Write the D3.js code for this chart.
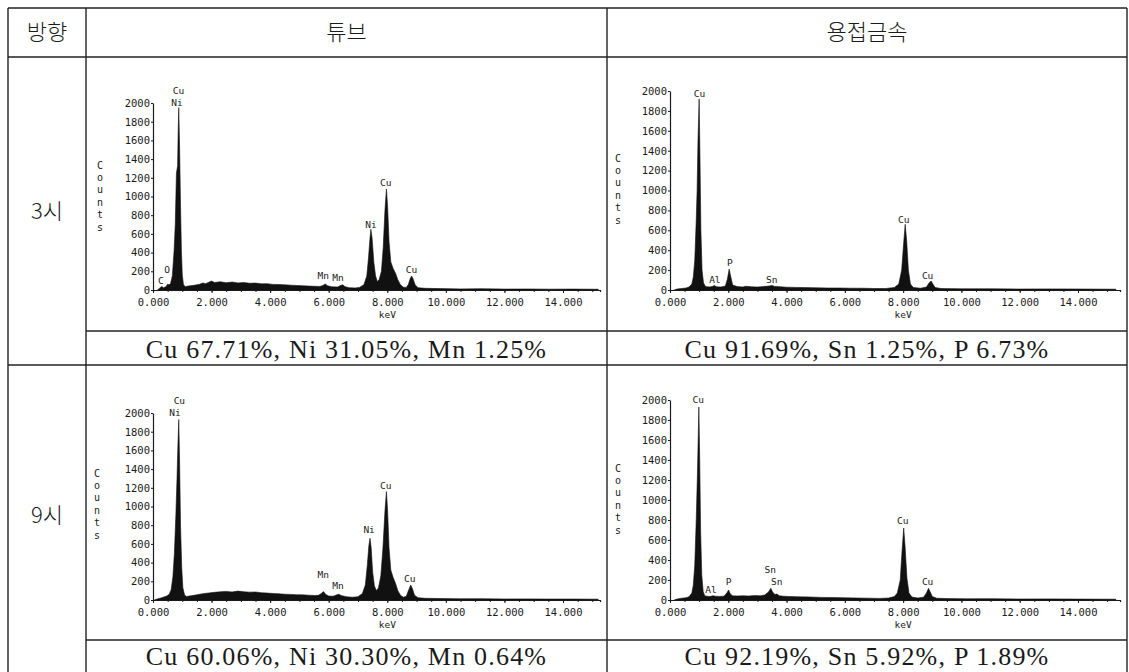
<!DOCTYPE html>
<html>
<head>
<meta charset="utf-8">
<script src="https://cdn.jsdelivr.net/npm/d3@7/dist/d3.min.js"></script>
<style>
body { margin: 0; background: #fff; }
svg { display: block; }
</style>
</head>
<body>
<div id="table"></div>
<script>
//table texts
var columns = ["방향", "튜브", "용접금속"];
var directions = ["3시", "9시"];
var compositions = [
    ["Cu 67.71%, Ni 31.05%, Mn 1.25%", "Cu 91.69%, Sn 1.25%, P 6.73%"],
    ["Cu 60.06%, Ni 30.30%, Mn 0.64%", "Cu 92.19%, Sn 5.92%, P 1.89%"]
];

//axis ticks
var xTickValues = [0, 2, 4, 6, 8, 10, 12, 14];
var yTickValues = [0, 200, 400, 600, 800, 1000, 1200, 1400, 1600, 1800, 2000];

//spectra: [keV, counts]
var tube3 = [[0.15,0],[0.2,12],[0.26,30],[0.3,38],[0.36,25],[0.44,35],[0.5,62],[0.55,55],[0.6,70],[0.66,150],[0.72,420],[0.76,700],[0.8,1250],[0.84,1330],[0.86,1700],[0.88,1950],[0.91,1500],[0.94,900],[0.97,420],[1.0,160],[1.04,60],[1.1,35],[1.2,42],[1.4,50],[1.6,62],[1.7,75],[1.8,68],[1.9,82],[2.0,95],[2.1,80],[2.3,88],[2.5,78],[2.7,85],[2.9,76],[3.1,80],[3.3,72],[3.5,74],[3.7,66],[3.9,68],[4.1,60],[4.3,58],[4.5,55],[4.7,52],[4.9,48],[5.1,46],[5.3,42],[5.5,40],[5.7,38],[5.8,48],[5.88,65],[5.96,45],[6.1,35],[6.3,32],[6.4,48],[6.48,55],[6.56,36],[6.7,25],[6.9,22],[7.05,28],[7.2,55],[7.3,150],[7.36,350],[7.41,560],[7.44,650],[7.48,560],[7.54,300],[7.6,150],[7.66,90],[7.72,110],[7.8,200],[7.86,450],[7.92,850],[7.97,1080],[8.01,900],[8.06,520],[8.12,300],[8.2,230],[8.28,180],[8.36,110],[8.45,55],[8.55,30],[8.65,28],[8.72,60],[8.78,120],[8.83,150],[8.88,120],[8.95,55],[9.05,25],[9.3,18],[9.8,15],[10.5,12],[11.2,14],[12,10],[12.8,11],[13.5,9],[14.3,10],[15.2,8]];

var weld3 = [[0.15,0],[0.25,10],[0.4,15],[0.55,20],[0.65,30],[0.75,60],[0.8,130],[0.85,300],[0.9,700],[0.93,1000],[0.96,1500],[1.0,1920],[1.03,1300],[1.06,600],[1.1,200],[1.15,70],[1.22,35],[1.35,30],[1.45,35],[1.52,45],[1.6,32],[1.75,30],[1.9,40],[1.97,110],[2.03,210],[2.08,140],[2.15,50],[2.3,35],[2.5,30],[2.6,38],[2.8,32],[3.0,30],[3.2,34],[3.4,40],[3.5,45],[3.6,36],[3.8,32],[4.0,28],[4.3,26],[4.6,24],[5.0,22],[5.4,20],[5.8,20],[6.2,18],[6.6,18],[7.0,15],[7.4,15],[7.7,25],[7.85,60],[7.95,200],[8.02,480],[8.07,660],[8.12,500],[8.18,200],[8.25,60],[8.35,25],[8.6,18],[8.8,30],[8.9,75],[8.96,90],[9.02,60],[9.1,25],[9.3,15],[10,12],[11,12],[12,10],[13,11],[14,10],[15.3,8]];

var tube9 = [[0.05,0],[0.15,12],[0.3,25],[0.45,40],[0.55,60],[0.62,110],[0.68,250],[0.73,500],[0.78,900],[0.82,1300],[0.85,1650],[0.88,1930],[0.91,1450],[0.94,800],[0.98,350],[1.02,130],[1.08,50],[1.15,38],[1.3,45],[1.5,55],[1.7,68],[1.9,75],[2.1,82],[2.3,88],[2.5,92],[2.7,86],[2.9,95],[3.1,88],[3.3,84],[3.5,86],[3.7,78],[3.9,74],[4.1,70],[4.3,66],[4.5,62],[4.7,60],[4.9,56],[5.1,55],[5.3,52],[5.5,48],[5.65,50],[5.75,70],[5.82,90],[5.9,60],[6.0,42],[6.15,40],[6.28,55],[6.35,62],[6.42,48],[6.6,35],[6.8,30],[7.0,35],[7.15,70],[7.25,160],[7.32,380],[7.37,580],[7.41,660],[7.45,560],[7.5,300],[7.56,150],[7.63,100],[7.7,130],[7.78,260],[7.85,550],[7.92,950],[7.97,1160],[8.01,960],[8.06,560],[8.12,320],[8.2,240],[8.28,180],[8.36,100],[8.45,50],[8.55,30],[8.65,40],[8.72,100],[8.8,160],[8.86,120],[8.93,50],[9.05,25],[9.3,18],[9.8,16],[10.5,13],[11.2,14],[12,11],[12.8,12],[13.5,10],[14.3,10],[15.2,9]];

var weld9 = [[0.15,0],[0.25,10],[0.4,18],[0.55,22],[0.65,32],[0.75,70],[0.8,150],[0.85,350],[0.9,800],[0.94,1250],[0.97,1650],[0.99,1930],[1.02,1400],[1.05,700],[1.09,250],[1.14,80],[1.2,40],[1.35,35],[1.48,42],[1.55,38],[1.7,36],[1.85,38],[1.95,70],[2.01,100],[2.07,60],[2.15,42],[2.3,40],[2.5,42],[2.7,40],[2.9,44],[3.1,42],[3.25,50],[3.38,80],[3.46,117],[3.52,80],[3.6,55],[3.67,60],[3.75,42],[3.9,38],[4.1,35],[4.4,32],[4.8,30],[5.2,26],[5.6,24],[6.0,22],[6.4,20],[6.8,18],[7.2,16],[7.5,20],[7.7,35],[7.8,70],[7.9,200],[7.96,480],[8.02,720],[8.07,520],[8.13,220],[8.2,70],[8.3,30],[8.5,20],[8.7,28],[8.8,70],[8.87,117],[8.93,80],[9.0,35],[9.15,18],[9.5,14],[10.2,12],[11,13],[12,10],[13,11],[14,9],[15.3,8]];

//peak labels: [element, keV, counts]
var tube3Labels = [["Cu",0.87,2131],["Ni",0.82,2003],["C",0.27,96],["O",0.48,221],["Mn",5.81,150],["Mn",6.32,136],["Ni",7.44,702],["Cu",7.95,1148],["Cu",8.83,221]];
var weld3Labels = [["Cu",1.01,1977],["Al",1.54,100],["P",2.05,278],["Sn",3.49,100],["Cu",8.02,710],["Cu",8.84,141]];
var tube9Labels = [["Cu",0.9,2131],["Ni",0.75,2003],["Mn",5.81,267],["Mn",6.32,150],["Ni",7.38,749],["Cu",7.95,1222],["Cu",8.77,225]];
var weld9Labels = [["Cu",0.97,2000],["Al",1.41,100],["P",2.01,183],["Sn",3.44,300],["Sn",3.66,183],["Cu",7.99,790],["Cu",8.84,183]];

//svg size
var svgW = 1129;
var svgH = 672;

//table grid
var colX = [8, 86, 607, 1127];
var rowY = {top: 8, head: 57, text1: 331, row2: 365, text2: 640, bottom: 674};

//placement of each spectrum plot
var panels = [
    {data: tube3, labels: tube3Labels, x0: 153, x14: 563, xEnd: 600, y0: 290, y2000: 103, countsX: 100, countsY: 165},
    {data: weld3, labels: weld3Labels, x0: 670, x14: 1078, xEnd: 1120, y0: 290, y2000: 91, countsX: 618, countsY: 158},
    {data: tube9, labels: tube9Labels, x0: 153, x14: 563, xEnd: 600, y0: 600, y2000: 413, countsX: 97, countsY: 473},
    {data: weld9, labels: weld9Labels, x0: 670, x14: 1078, xEnd: 1120, y0: 600, y2000: 400, countsX: 618, countsY: 468}
];

var ink = "#1a1a1a";
var monoFont = "'DejaVu Sans Mono', monospace";

var svg = d3.select("#table").append("svg")
    .attr("width", svgW)
    .attr("height", svgH);

//draw table lines
function drawGrid() {
    var g = svg.append("g")
        .attr("stroke", "#222")
        .attr("stroke-width", 1.4);

    //full width rules
    [rowY.top, rowY.head, rowY.row2, rowY.bottom].forEach(function(y) {
        g.append("line").attr("x1", colX[0]).attr("x2", colX[3]).attr("y1", y).attr("y2", y);
    });
    //rules between chart and composition cells
    [rowY.text1, rowY.text2].forEach(function(y) {
        g.append("line").attr("x1", colX[1]).attr("x2", colX[3]).attr("y1", y).attr("y2", y);
    });
    //verticals
    colX.forEach(function(x) {
        g.append("line").attr("x1", x).attr("x2", x).attr("y1", rowY.top).attr("y2", rowY.bottom);
    });
}

//draw header, row titles, compositions
function drawTexts() {
    var korean = "'Noto Sans CJK KR', sans-serif";
    var headY = (rowY.top + rowY.head) / 2;

    svg.selectAll(".colTitle")
        .data(columns)
        .enter()
        .append("text")
        .attr("x", (d, i) => (colX[i] + colX[i + 1]) / 2)
        .attr("y", headY)
        .attr("dy", "0.35em")
        .attr("text-anchor", "middle")
        .attr("font-family", korean)
        .attr("font-weight", 300)
        .attr("font-size", "22px")
        .attr("fill", ink)
        .text(d => d);

    var rowCenters = [(rowY.head + rowY.row2) / 2, (rowY.row2 + rowY.bottom) / 2 - 4];
    svg.selectAll(".rowTitle")
        .data(directions)
        .enter()
        .append("text")
        .attr("x", (colX[0] + colX[1]) / 2)
        .attr("y", (d, i) => rowCenters[i])
        .attr("dy", "0.35em")
        .attr("text-anchor", "middle")
        .attr("font-family", korean)
        .attr("font-weight", 300)
        .attr("font-size", "22px")
        .attr("fill", ink)
        .text(d => d);

    var textRows = [(rowY.text1 + rowY.row2) / 2 + 1, 656];
    compositions.forEach(function(row, r) {
        row.forEach(function(t, c) {
            svg.append("text")
                .attr("x", (colX[c + 1] + colX[c + 2]) / 2)
                .attr("y", textRows[r])
                .attr("dy", "0.35em")
                .attr("text-anchor", "middle")
                .attr("font-family", "'Liberation Serif', serif")
                .attr("font-size", "26px")
                .attr("letter-spacing", "1.2px")
                .attr("fill", ink)
                .text(t);
        });
    });
}

//draw one EDS spectrum
function drawPanel(p) {
    var g = svg.append("g");

    var kevPerPx = 14 / (p.x14 - p.x0);
    var xMax = (p.xEnd - p.x0) * kevPerPx;

    var xScale = d3.scaleLinear()
        .domain([0, xMax])
        .range([p.x0, p.xEnd]);

    var yScale = d3.scaleLinear()
        .domain([0, 2000])
        .range([p.y0, p.y2000]);

    //filled spectrum
    var area = d3.area()
        .x(d => xScale(d[0]))
        .y0(yScale(0))
        .y1(d => yScale(d[1]));

    g.append("path")
        .datum(p.data)
        .attr("d", area)
        .attr("fill", "#111")
        .attr("stroke", "#111")
        .attr("stroke-width", 0.6);

    //minor ticks along the energy axis
    var minor = d3.axisBottom(xScale)
        .tickValues(d3.range(0, xMax, 0.5))
        .tickSize(2)
        .tickFormat("");
    g.append("g")
        .attr("transform", `translate(0, ${p.y0})`)
        .call(minor);

    //x axis
    var bottomAxis = d3.axisBottom(xScale)
        .tickValues(xTickValues)
        .tickSize(3)
        .tickSizeOuter(0)
        .tickPadding(6)
        .tickFormat(d3.format(".3f"));
    g.append("g")
        .attr("transform", `translate(0, ${p.y0})`)
        .call(bottomAxis);

    //y axis
    var leftAxis = d3.axisLeft(yScale)
        .tickValues(yTickValues)
        .tickSize(2)
        .tickSizeOuter(0)
        .tickPadding(1)
        .tickFormat(d3.format("d"));
    g.append("g")
        .attr("transform", `translate(${p.x0}, 0)`)
        .call(leftAxis);

    g.selectAll(".domain").attr("stroke", ink).attr("stroke-width", 1.2);
    g.selectAll(".tick line").attr("stroke", ink);
    g.selectAll(".tick text")
        .attr("font-family", monoFont)
        .attr("font-size", "10.5px")
        .attr("fill", ink);

    //keV title
    g.append("text")
        .attr("x", xScale(8))
        .attr("y", p.y0 + 28)
        .attr("text-anchor", "middle")
        .attr("font-family", monoFont)
        .attr("font-size", "9.5px")
        .attr("fill", ink)
        .text("keV");

    //Counts title written letter by letter
    g.selectAll(".countsLetter")
        .data("Counts".split(""))
        .enter()
        .append("text")
        .attr("x", p.countsX)
        .attr("y", (d, i) => p.countsY + i * 12.4)
        .attr("dy", "0.35em")
        .attr("text-anchor", "middle")
        .attr("font-family", monoFont)
        .attr("font-size", "10px")
        .attr("fill", ink)
        .text(d => d);

    //peak labels
    g.selectAll(".peakLabel")
        .data(p.labels)
        .enter()
        .append("text")
        .attr("x", d => xScale(d[1]))
        .attr("y", d => yScale(d[2]))
        .attr("dy", "0.35em")
        .attr("text-anchor", "middle")
        .attr("font-family", monoFont)
        .attr("font-size", "9.5px")
        .attr("fill", ink)
        .text(d => d[0]);
}

drawGrid();
drawTexts();
panels.forEach(drawPanel);
</script>
</body>
</html>
